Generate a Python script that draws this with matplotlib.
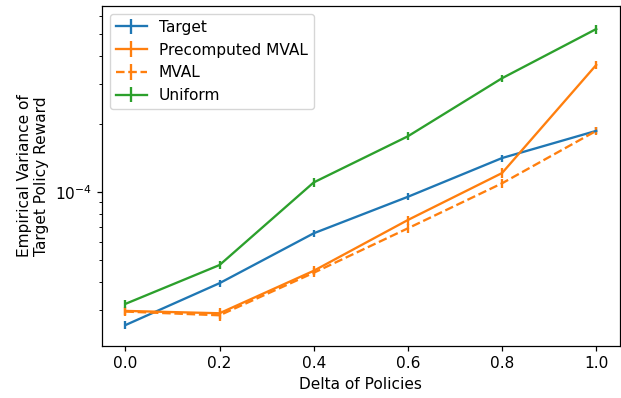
import matplotlib
matplotlib.use("Agg")
import matplotlib.pyplot as plt
import numpy as np

deltas = [0.0, 0.2, 0.4, 0.6, 0.8, 1.0]

target = [2.57e-5, 3.94e-5, 6.55e-5, 9.5e-5, 1.41e-4, 1.86e-4]
target_err = [1.0e-6, 1.4e-6, 2.2e-6, 3.5e-6, 5.0e-6, 6.5e-6]

precomputed = [2.97e-5, 2.90e-5, 4.47e-5, 7.5e-5, 1.21e-4, 3.64e-4]
precomputed_err = [1.2e-6, 1.6e-6, 2.0e-6, 3.5e-6, 6.5e-6, 1.5e-5]

mval = [2.95e-5, 2.84e-5, 4.38e-5, 6.89e-5, 1.09e-4, 1.86e-4]
mval_err = [1.2e-6, 1.5e-6, 2.0e-6, 3.0e-6, 5.0e-6, 8.0e-6]

uniform = [3.19e-5, 4.74e-5, 1.10e-4, 1.76e-4, 3.18e-4, 5.25e-4]
uniform_err = [1.2e-6, 2.0e-6, 5.5e-6, 7.0e-6, 1.1e-5, 2.4e-5]

s = 1.11
plt.rcParams["font.size"] = 10 * s
plt.rcParams["lines.linewidth"] = 1.5 * s
plt.rcParams["axes.linewidth"] = 0.8 * s
plt.rcParams["xtick.major.size"] = 3.5 * s
plt.rcParams["ytick.major.size"] = 3.5 * s
plt.rcParams["ytick.minor.size"] = 2 * s
plt.rcParams["xtick.major.width"] = 0.8 * s
plt.rcParams["ytick.major.width"] = 0.8 * s
plt.rcParams["ytick.minor.width"] = 0.6 * s

fig = plt.figure(figsize=(6.21, 3.98), dpi=100)
ax = fig.add_axes([0.164, 0.131, 0.834, 0.854])

ax.errorbar(deltas, target, yerr=target_err, color="tab:blue", label="Target")
ax.errorbar(deltas, precomputed, yerr=precomputed_err, color="tab:orange", label="Precomputed MVAL")
ax.errorbar(deltas, mval, yerr=mval_err, color="tab:orange", linestyle="--", label="MVAL")
ax.errorbar(deltas, uniform, yerr=uniform_err, color="tab:green", label="Uniform")

ax.set_yscale("log")
ax.set_ylim(2.08e-5, 6.64e-4)
ax.set_xlabel("Delta of Policies")
ax.set_ylabel("Empirical Variance of\nTarget Policy Reward")
ax.legend(loc="upper left")

fig.savefig("out.png", dpi=100)
